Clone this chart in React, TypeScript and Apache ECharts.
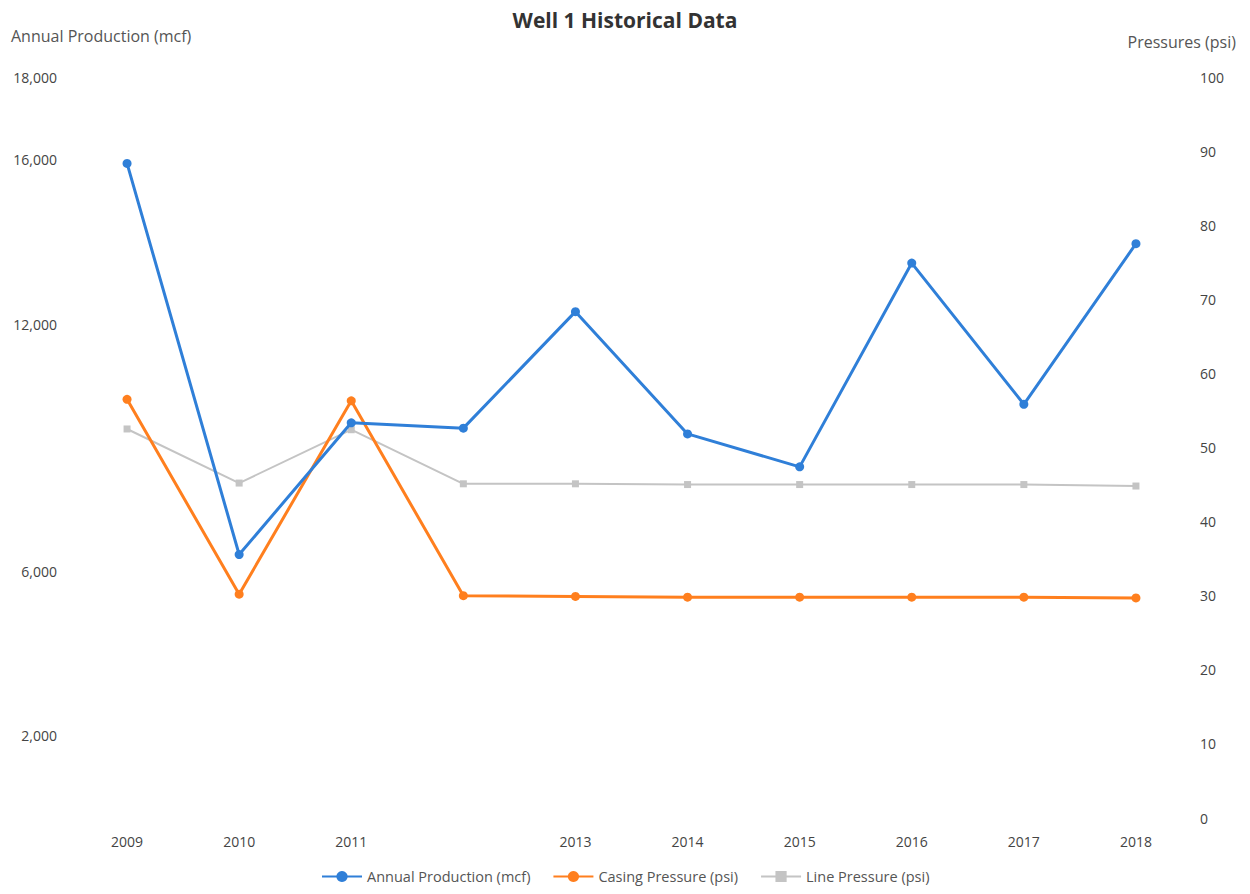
import React, { useEffect, useRef } from "react";
import * as echarts from "echarts";

const years = ["2009", "2010", "2011", "2012", "2013", "2014", "2015", "2016", "2017", "2018"];
const hiddenYearLabels = ["2012"];
const annualProduction = [15900, 6400, 9600, 9470, 12300, 9330, 8530, 13480, 10050, 13950];
const casingPressure = [56.5, 30.2, 56.3, 30.0, 29.9, 29.8, 29.8, 29.8, 29.8, 29.7];
const linePressure = [52.5, 45.2, 52.4, 45.1, 45.1, 45.0, 45.0, 45.0, 45.0, 44.8];
const shownLeftLabels = [2000, 6000, 12000, 16000, 18000];

const FONT = "'Open Sans', 'Liberation Sans', sans-serif";

export default function App() {
  const ref = useRef<HTMLDivElement>(null);
  useEffect(() => {
    if (!ref.current) return;
    const chart = echarts.init(ref.current, undefined, { renderer: "svg" });
    chart.setOption({
      animation: false,
      backgroundColor: "#ffffff",
      textStyle: { fontFamily: FONT },
      title: {
        text: "Well 1 Historical Data",
        left: "center",
        top: 4,
        textStyle: { fontSize: 21, fontWeight: "bold", color: "#333333", fontFamily: FONT },
      },
      graphic: [
        {
          type: "text",
          left: 11,
          top: 28,
          style: { text: "Annual Production (mcf)", fontSize: 16, fill: "#555555", fontFamily: FONT },
        },
        {
          type: "text",
          right: 14,
          top: 34,
          style: { text: "Pressures (psi)", fontSize: 16, fill: "#555555", fontFamily: FONT },
        },
      ],
      legend: {
        bottom: 5,
        left: 316,
        itemGap: 22,
        itemWidth: 40,
        textStyle: { fontSize: 14.5, color: "#555555", fontFamily: FONT },
        data: ["Annual Production (mcf)", "Casing Pressure (psi)", "Line Pressure (psi)"],
      },
      grid: { left: 71, right: 58, top: 77, bottom: 76 },
      xAxis: {
        type: "category",
        data: years,
        boundaryGap: true,
        axisLine: { show: false },
        axisTick: { show: false },
        axisLabel: {
          margin: 16,
          fontSize: 14,
          color: "#444444",
          interval: 0,
          formatter: (v: string) => (hiddenYearLabels.includes(v) ? "" : v),
        },
      },
      yAxis: [
        {
          type: "value",
          min: 0,
          max: 18000,
          interval: 2000,
          axisLine: { show: false },
          axisTick: { show: false },
          splitLine: { show: false },
          axisLabel: {
            margin: 14,
            fontSize: 14,
            color: "#444444",
            formatter: (v: number) => (shownLeftLabels.includes(v) ? v.toLocaleString("en-US") : ""),
          },
        },
        {
          type: "value",
          min: 0,
          max: 100,
          interval: 10,
          position: "right",
          axisLine: { show: false },
          axisTick: { show: false },
          splitLine: { show: false },
          axisLabel: { margin: 8, fontSize: 14, color: "#444444", align: "left" },
        },
      ],
      series: [
        {
          name: "Annual Production (mcf)",
          type: "line",
          yAxisIndex: 0,
          data: annualProduction,
          symbol: "circle",
          symbolSize: 9,
          itemStyle: { color: "#2f7fd8" },
          lineStyle: { color: "#2f7fd8", width: 3 },
          z: 4,
        },
        {
          name: "Casing Pressure (psi)",
          type: "line",
          yAxisIndex: 1,
          data: casingPressure,
          symbol: "circle",
          symbolSize: 9,
          itemStyle: { color: "#ff7f1e" },
          lineStyle: { color: "#ff7f1e", width: 3 },
          z: 3,
        },
        {
          name: "Line Pressure (psi)",
          type: "line",
          yAxisIndex: 1,
          data: linePressure,
          symbol: "rect",
          symbolSize: 7,
          itemStyle: { color: "#c4c4c4" },
          lineStyle: { color: "#c4c4c4", width: 2 },
          z: 2,
        },
      ],
    });
    return () => chart.dispose();
  }, []);
  return (
    <div
      ref={ref}
      style={{ position: "absolute", left: 0, top: 0, width: 1250, height: 894 }}
    />
  );
}
